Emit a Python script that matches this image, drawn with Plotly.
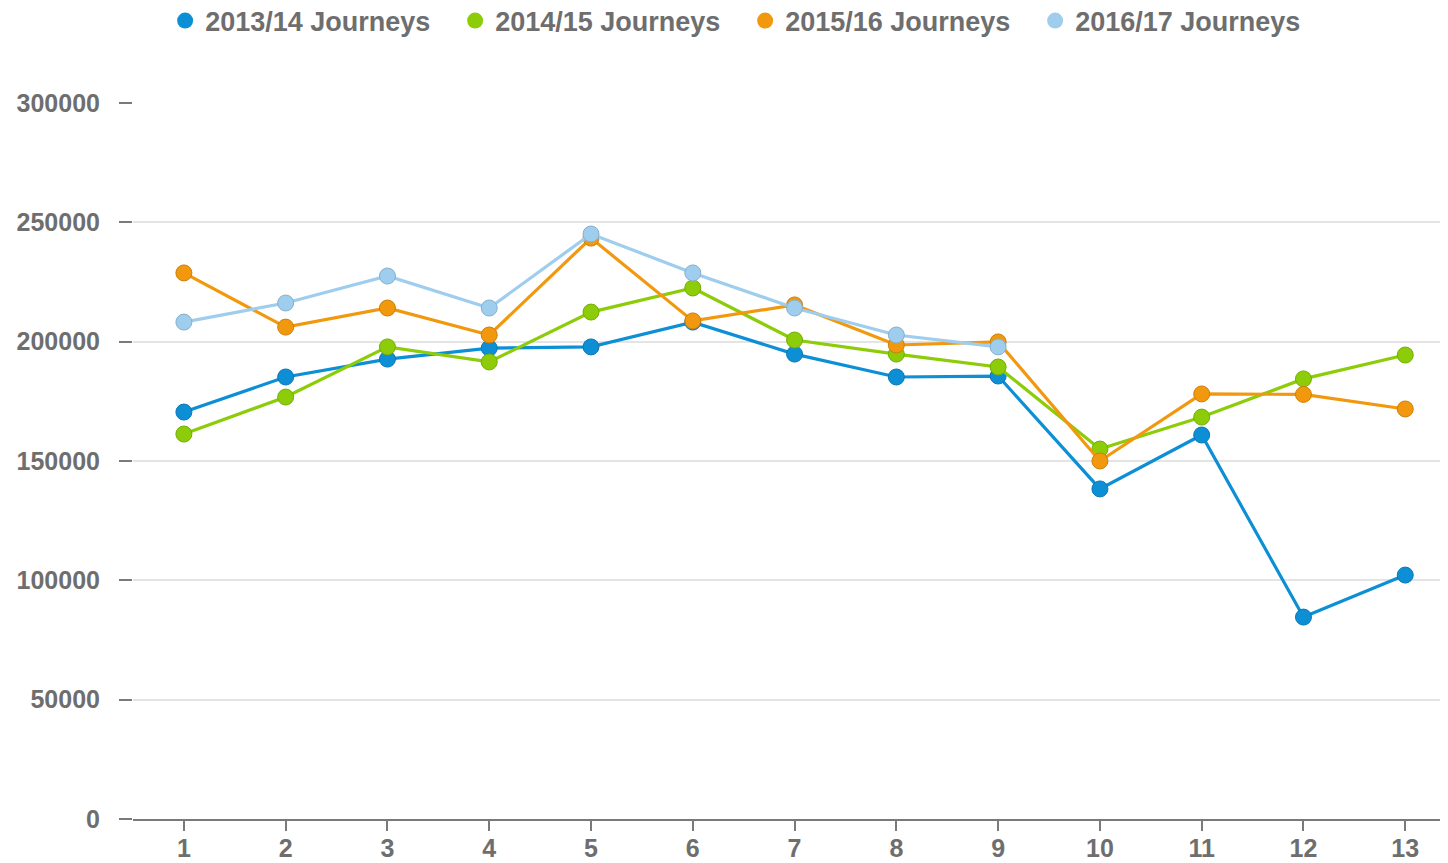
import plotly.graph_objects as go

periods = list(range(1, 14))
series_names = ["2013/14 Journeys", "2014/15 Journeys", "2015/16 Journeys", "2016/17 Journeys"]
j2013 = [170500, 185200, 192700, 197300, 197800, 208200, 194800, 185200, 185600, 138300, 160900, 84600, 102200]
j2014 = [161300, 176800, 197800, 191500, 212400, 222500, 200700, 194800, 189400, 155000, 168400, 184400, 194400]
j2015 = [228800, 206100, 214100, 202800, 243400, 208700, 215400, 198600, 199900, 150000, 178100, 177900, 171800]
j2016 = [208200, 216200, 227500, 214100, 245100, 228800, 214100, 202800, 197800]
colors = ["#0d8fd6", "#8ccc08", "#f2980e", "#9ecdee"]
outlines = ["#0a78b5", "#76ad06", "#cc800b", "#86b0cc"]

fig = go.Figure()
for name, vals, c, oc in zip(series_names, [j2013, j2014, j2015, j2016], colors, outlines):
    fig.add_trace(go.Scatter(
        x=periods[:len(vals)], y=vals, mode="lines+markers", name=name,
        line=dict(color=c, width=3.2),
        marker=dict(color=c, size=16, line=dict(color=oc, width=1)),
        showlegend=False, legendgroup=name,
    ))
for name, c in zip(series_names, colors):
    fig.add_trace(go.Scatter(
        x=[None], y=[None], mode="markers", name=name,
        marker=dict(color=c, size=20), legendgroup=name, showlegend=True,
    ))

fig.update_layout(
    width=1440, height=855,
    paper_bgcolor="white", plot_bgcolor="white",
    margin=dict(l=125, r=0, t=95, b=44),
    font=dict(family="Liberation Sans, Arial, sans-serif", color="#6b6b6b"),
    legend=dict(orientation="h", x=0.4655, xanchor="center", y=1 - 13 / 855, yref="container",
                yanchor="middle", font=dict(size=27, color="#6e6e6e", weight="bold"),
                itemwidth=30, tracegroupgap=0, entrywidth=245, entrywidthmode="pixels"),
    showlegend=True,
)
fig.update_xaxes(
    range=[0.5, 13.42], tickmode="array", tickvals=periods, ticktext=[str(p) for p in periods],
    showgrid=False, zeroline=False, showline=True, linecolor="#7a7a7a", linewidth=2,
    ticks="outside", ticklen=10, tickwidth=2, tickcolor="#7a7a7a", automargin=False,
    ticklabelstandoff=-4,
    tickfont=dict(size=25, color="#6e6e6e", weight="bold"),
)
fig.update_yaxes(
    range=[0, 300000], tickmode="array", tickvals=[0, 50000, 100000, 150000, 200000, 250000, 300000],
    ticktext=["0", "50000", "100000", "150000", "200000", "250000", "300000"],
    showgrid=True, gridcolor="#e4e4e4", gridwidth=2, zeroline=False, showline=False,
    ticks="outside", ticklen=13, tickwidth=2, tickcolor="#7a7a7a", ticklabelstandoff=14,
    automargin=False, tickfont=dict(size=25, color="#6e6e6e", weight="bold"),
)

fig.write_html("out.html")
